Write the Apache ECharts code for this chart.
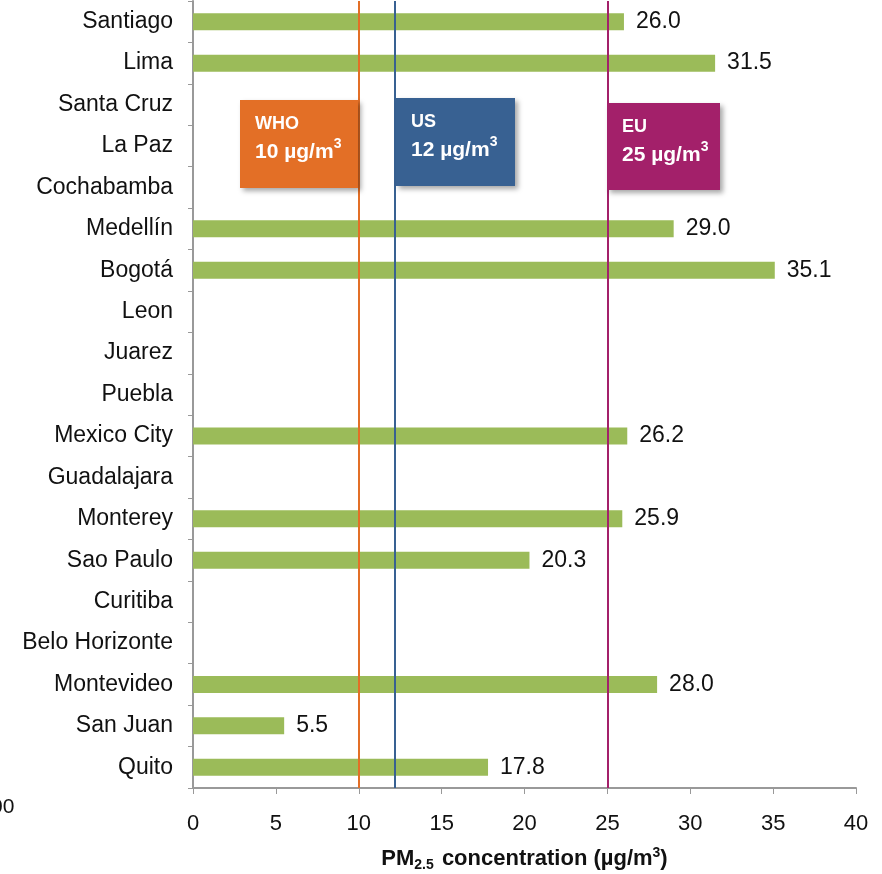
<!DOCTYPE html>
<html><head><meta charset="utf-8">
<script src="https://cdn.jsdelivr.net/npm/echarts@6/dist/echarts.min.js"></script>
<style>html,body{margin:0;padding:0;background:#fff}#c{width:882px;height:874px}</style>
</head><body><div id="c"></div>
<script>
const cities = ['Santiago','Lima','Santa Cruz','La Paz','Cochabamba','Medellín','Bogotá','Leon','Juarez','Puebla','Mexico City','Guadalajara','Monterey','Sao Paulo','Curitiba','Belo Horizonte','Montevideo','San Juan','Quito'];
const pm25 = [26.0,31.5,null,null,null,29.0,35.1,null,null,null,26.2,null,25.9,20.3,null,null,28.0,5.5,17.8];
const standardNames = ['WHO','US','EU'];
const standardValues = ['10','12','25'];
const standardLineValues = [10,12.2,25];
const standardColors = ['#E36F26','#386192','#A3206A'];
const xTicks = {min:0,max:40,interval:5};

const chart = echarts.init(document.getElementById('c'));
const font = '"Liberation Sans", Arial, sans-serif';

chart.setOption({
  animation:false,
  grid:{left:193,right:26,top:1,bottom:86,containLabel:false,outerBoundsMode:'none'},
  xAxis:{type:'value',min:xTicks.min,max:xTicks.max,interval:xTicks.interval,
    axisLine:{show:true,lineStyle:{color:'#999',width:2}},
    axisTick:{show:true,length:6,lineStyle:{color:'#999'}},
    splitLine:{show:false},
    axisLabel:{fontFamily:font,fontSize:22,color:'#111',margin:25},
    name:'{b|PM}{sub|2.5}{b| concentration (µg/m}{sup|3}{b|)}',nameLocation:'middle',nameGap:58,
    nameTextStyle:{fontFamily:font,fontSize:22,fontWeight:'bold',color:'#111',
      rich:{
        b:{fontFamily:font,fontSize:22,fontWeight:'bold',color:'#111',lineHeight:26,verticalAlign:'middle'},
        sub:{fontFamily:font,fontSize:14,fontWeight:'bold',color:'#111',lineHeight:26,verticalAlign:'bottom',padding:[0,2,0,0]},
        sup:{fontFamily:font,fontSize:14,fontWeight:'bold',color:'#111',lineHeight:26,verticalAlign:'top'}
      }}},
  yAxis:{type:'category',data:cities,inverse:true,
    axisLine:{show:true,lineStyle:{color:'#999',width:2}},
    axisTick:{show:true,length:5,lineStyle:{color:'#999'}},
    axisLabel:{fontFamily:font,fontSize:23,color:'#111',margin:20}},
  series:[{type:'bar',data:pm25,barWidth:17,
    itemStyle:{color:'#9BBB59'},
    label:{show:true,position:'right',distance:12,fontFamily:font,fontSize:23,color:'#111',
      formatter:p=>p.value==null?'':Number(p.value).toFixed(1)},
    markLine:{silent:true,symbol:'none',label:{show:false},
      data:standardLineValues.map((v,i)=>({xAxis:v,lineStyle:{color:standardColors[i],width:2,type:'solid'}}))}
  }]
});

// annotation boxes
const boxes = [
  {x:240,y:100,w:118,h:88},
  {x:396,y:98,w:119,h:88},
  {x:607,y:103,w:113,h:87}
];
const g = [];
boxes.forEach((b,i)=>{
  g.push({type:'rect',shape:{x:b.x,y:b.y,width:b.w,height:b.h},
    style:{fill:standardColors[i],shadowBlur:5,shadowOffsetX:3,shadowOffsetY:3,shadowColor:'rgba(0,0,0,0.35)'},z:10});
  g.push({type:'text',x:b.x+15,y:b.y+15,style:{text:standardNames[i],fill:'#fff',font:'bold 18px '+font},z:11});
  g.push({type:'text',x:b.x+15,y:b.y+37,z:11,style:{
    text:'{a|'+standardValues[i]+' µg/m}{s|3}',
    rich:{
      a:{fill:'#fff',fontFamily:font,fontSize:21,fontWeight:'bold',lineHeight:26,verticalAlign:'bottom'},
      s:{fill:'#fff',fontFamily:font,fontSize:14,fontWeight:'bold',lineHeight:26,verticalAlign:'top'}
    }}});
});
g.push({type:'text',x:-9,y:797,style:{text:'00',fill:'#111',font:'21px '+font}});
chart.setOption({graphic:g});
</script></body></html>
